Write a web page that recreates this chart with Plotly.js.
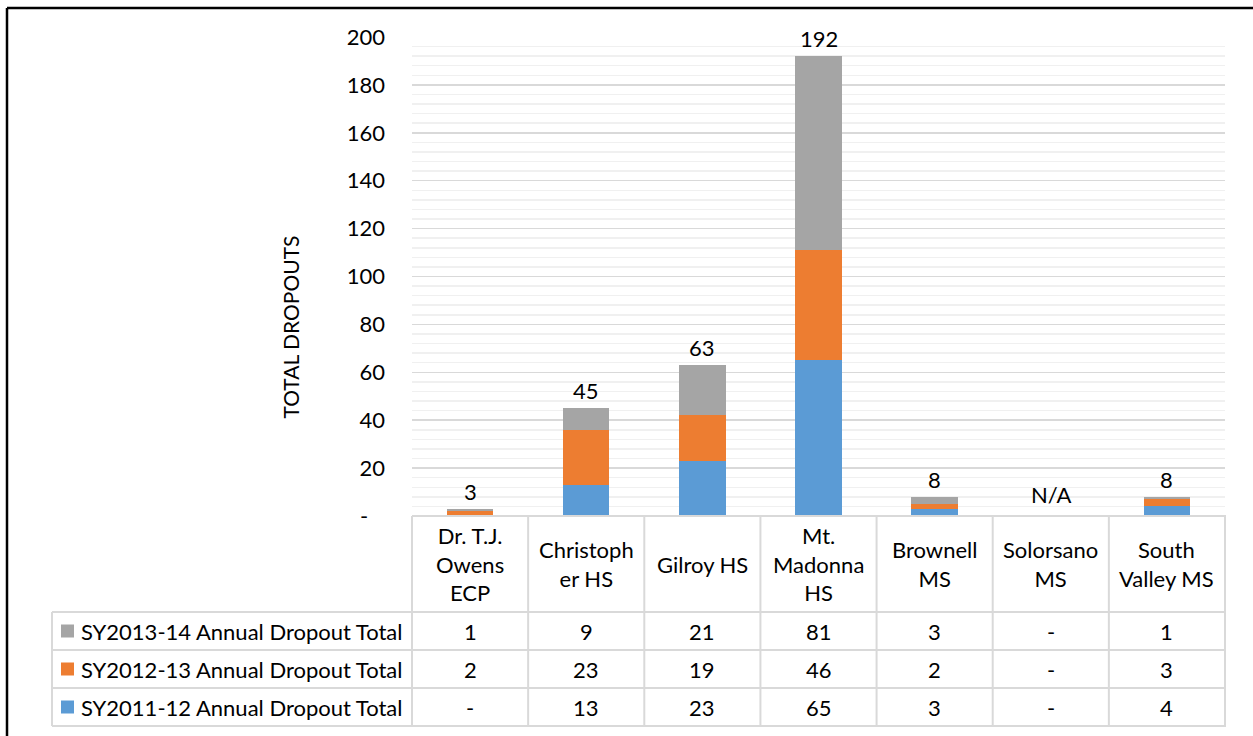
<!DOCTYPE html>
<html>
<head>
<meta charset="utf-8">
<script src="https://cdn.plot.ly/plotly-3.0.1.min.js"></script>
<style>
html,body{margin:0;padding:0;background:#fff;}
#chart{width:1253px;height:736px;}
</style>
</head>
<body>
<div id="chart"></div>
<script>
// ---- data ----
const categories = ["Dr. T.J. Owens ECP","Christopher HS","Gilroy HS","Mt. Madonna HS","Brownell MS","Solorsano MS","South Valley MS"];
const categoryLabels = ["Dr. T.J.<br>Owens<br>ECP","Christoph<br>er HS","Gilroy HS","Mt.<br>Madonna<br>HS","Brownell<br>MS","Solorsano<br>MS","South<br>Valley MS"];
const sy1112 = [null, 13, 23, 65, 3, null, 4];
const sy1213 = [2, 23, 19, 46, 2, null, 3];
const sy1314 = [1, 9, 21, 81, 3, null, 1];
const seriesNames = ["SY2011-12 Annual Dropout Total","SY2012-13 Annual Dropout Total","SY2013-14 Annual Dropout Total"];
const seriesColors = ["#5B9BD5","#ED7D31","#A5A5A5"];
const yTickVals = [0,20,40,60,80,100,120,140,160,180,200];
const yTickText = ["-\u00a0\u00a0\u00a0","20","40","60","80","100","120","140","160","180","200"];

// ---- layout geometry (pixels) ----
const W = 1253, H = 736;
const L = 412, R = 1225, T = 37, B = 516;
const xp = px => (px - L) / (R - L);
const yp = py => (B - py) / (B - T);
const FONT = "Lato, 'Liberation Sans', sans-serif";
const FS = 22;
const GRID = "#d9d9d9";

const series = [sy1112, sy1213, sy1314];
const traces = series.map((vals, k) => ({
  type: "bar",
  x: categories,
  y: vals,
  name: seriesNames[k],
  marker: {color: seriesColors[k], line: {width: 0}},
  hoverinfo: "x+y+name",
  showlegend: false
}));

const totals = categories.map((c, i) => {
  const vals = series.map(s => s[i]).filter(v => v !== null);
  return vals.length ? vals.reduce((a, b) => a + b, 0) : null;
});

const shapes = [];
const annotations = [];

// outer frame
shapes.push({type: "line", xref: "paper", yref: "paper", x0: xp(7), x1: xp(7), y0: yp(8), y1: yp(H + 5), line: {color: "#000", width: 2.5}});
shapes.push({type: "line", xref: "paper", yref: "paper", x0: xp(7), x1: xp(W + 5), y0: yp(8), y1: yp(8), line: {color: "#000", width: 2.5}});

// total labels
totals.forEach((t, i) => {
  annotations.push({
    xref: "x", yref: "y", x: categories[i], y: t === null ? 0 : t,
    text: t === null ? "N/A" : String(t), showarrow: false,
    yanchor: "bottom", yshift: t === null ? 6 : 2,
    font: {family: FONT, size: FS, color: "#000"}
  });
});

// y title
annotations.push({
  xref: "paper", yref: "paper", x: xp(275), y: yp(327),
  text: "TOTAL DROPOUTS", textangle: -90, showarrow: false,
  font: {family: FONT, size: 21, color: "#000"}
});

// data table
const colW = (R - L) / categories.length;
const tblRight = 1226, legLeft = 52;
const hdrTop = 516, hdrBot = 612;
const rowLines = [612, 650, 688, 726];
const lineStyle = {color: GRID, width: 2};
// horizontal lines
shapes.push({type: "line", xref: "paper", yref: "paper", x0: xp(L), x1: xp(tblRight), y0: yp(hdrTop), y1: yp(hdrTop), line: lineStyle});
rowLines.forEach(py => {
  shapes.push({type: "line", xref: "paper", yref: "paper", x0: xp(legLeft), x1: xp(tblRight), y0: yp(py), y1: yp(py), line: lineStyle});
});
// vertical lines
for (let i = 0; i <= categories.length; i++) {
  const px = L + i * colW;
  shapes.push({type: "line", xref: "paper", yref: "paper", x0: xp(px), x1: xp(px), y0: yp(hdrTop), y1: yp(726), line: lineStyle});
}
shapes.push({type: "line", xref: "paper", yref: "paper", x0: xp(legLeft), x1: xp(legLeft), y0: yp(612), y1: yp(726), line: lineStyle});

// header labels
categoryLabels.forEach((lab, i) => {
  annotations.push({
    xref: "paper", yref: "paper", x: xp(L + (i + 0.5) * colW), y: yp(564),
    text: lab, showarrow: false, align: "center", xanchor: "center", yanchor: "middle",
    font: {family: FONT, size: FS, color: "#000"}
  });
});

// rows: top = 2013-14, then 2012-13, then 2011-12
const rowOrder = [2, 1, 0];
rowOrder.forEach((k, r) => {
  const cy = (rowLines[r] + rowLines[r + 1]) / 2;
  shapes.push({type: "rect", xref: "paper", yref: "paper", x0: xp(61), x1: xp(74), y0: yp(cy - 6.5), y1: yp(cy + 6.5), fillcolor: seriesColors[k], line: {width: 0}});
  annotations.push({
    xref: "paper", yref: "paper", x: xp(79), y: yp(cy), xanchor: "left", yanchor: "middle",
    text: seriesNames[k], showarrow: false, font: {family: FONT, size: FS, color: "#000"}
  });
  series[k].forEach((v, i) => {
    annotations.push({
      xref: "paper", yref: "paper", x: xp(L + (i + 0.5) * colW), y: yp(cy), xanchor: "center", yanchor: "middle",
      text: v === null ? "-" : String(v), showarrow: false, font: {family: FONT, size: FS, color: "#000"}
    });
  });
});

const layout = {
  width: W, height: H,
  margin: {l: L, r: W - R, t: T, b: H - B, pad: 0},
  paper_bgcolor: "#fff", plot_bgcolor: "#fff",
  barmode: "stack", bargap: 0.6,
  showlegend: false,
  font: {family: FONT, size: FS, color: "#000"},
  xaxis: {showticklabels: false, showgrid: false, zeroline: false, showline: false, fixedrange: true},
  yaxis: {
    range: [0, 200], tickvals: yTickVals, ticktext: yTickText,
    showgrid: true, gridcolor: GRID, gridwidth: 1.5,
    minor: {dtick: 4, showgrid: true, gridcolor: "#f0f0f0", gridwidth: 1.5},
    zeroline: false, showline: false,
    ticks: "", ticklabelstandoff: 26,
    tickfont: {family: FONT, size: FS, color: "#000"}
  },
  shapes: shapes,
  annotations: annotations
};

Plotly.newPlot("chart", traces, layout, {displayModeBar: false, staticPlot: true});
</script>
</body>
</html>
